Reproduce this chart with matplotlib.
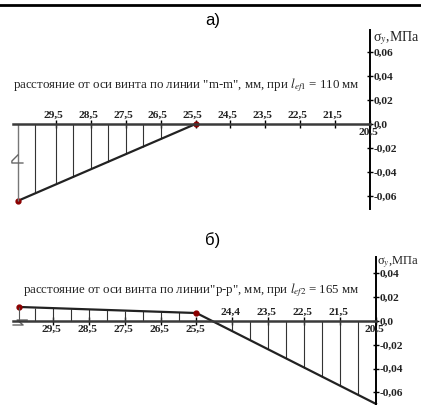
import numpy as np
import matplotlib
matplotlib.use("Agg")
import matplotlib.pyplot as plt
from matplotlib.lines import Line2D

###########################################
# DATA
###########################################
# panel a) - line "m-m", l_ef1 = 110 mm
a_x = [30.59, 25.5]            # distance from screw axis, mm
a_sigma = [-0.064, 0.0]        # sigma_y, MPa
a_hatch = [30.1, 29.5, 29.0, 28.5, 28.0, 27.5, 27.0, 26.5]
a_ticks = [29.5, 28.5, 27.5, 26.5, 25.5, 24.5, 23.5, 22.5, 21.5, 20.5]
a_tick_labels = ["29,5", "28,5", "27,5", "26,5", "25,5", "24,5", "23,5", "22,5", "21,5", "20,5"]
a_yticks = [0.06, 0.04, 0.02, 0.0, -0.02, -0.04, -0.06]

# panel b) - line "p-p", l_ef2 = 165 mm
b_x = [30.44, 25.5, 20.5]
b_sigma = [0.0118, 0.0067, -0.0697]
b_hatch = [30.0, 29.5, 29.0, 28.5, 28.0, 27.5, 27.0, 26.5, 26.0,
           24.5, 24.0, 23.5, 23.0, 22.5, 22.0, 21.5, 21.0]
b_ticks = [29.5, 28.5, 27.5, 26.5, 25.5, 24.5, 23.5, 22.5, 21.5, 20.5]
b_tick_labels = ["29,5", "28,5", "27,5", "26,5", "25,5", "24,4", "23,5", "22,5", "21,5", "20,5"]
b_labels_above = [False, False, False, False, False, True, True, True, True, False]
b_yticks = [0.04, 0.02, 0.0, -0.02, -0.04, -0.06]

a_caption = 'расстояние от оси винта по линии "m-m", мм, при $l_{ef1}$ = 110 мм'
b_caption = 'расстояние от оси винта по линии"р-р", мм, при $l_{ef2}$ = 165 мм'

###########################################
# STYLE
###########################################
W, H = 421, 405
plt.rcParams['mathtext.fontset'] = 'stix'
serif = 'Liberation Serif'
sans = 'Liberation Sans'
dark = '#222222'
dot = '#8b0000'
tick_fs = 8.2


def box(l, r, t, b):
    return [l / W, 1 - b / H, (r - l) / W, (b - t) / H]


def fmt(v):
    if v == 0:
        return "0,0"
    return ("%.2f" % v).replace(".", ",")


def setup(ax, xlim, ylim, yticks):
    ax.set_xlim(*xlim)
    ax.set_ylim(*ylim)
    ax.set_facecolor('none')
    for s in ['left', 'top']:
        ax.spines[s].set_visible(False)
    ax.spines['bottom'].set_position(('data', 0))
    ax.spines['bottom'].set_linewidth(1.8)
    ax.spines['bottom'].set_color('#3a3a3a')
    ax.spines['right'].set_linewidth(1.4)
    ax.spines['right'].set_color('black')
    ax.yaxis.tick_right()
    ax.set_yticks(yticks)
    ax.set_yticklabels([fmt(v) for v in yticks], fontfamily=serif,
                       fontweight='bold', fontsize=tick_fs, color=dark)
    ax.tick_params(axis='y', direction='inout', length=5, width=1, pad=0)
    ax.tick_params(axis='x', direction='inout', length=6, width=1, labelbottom=False)


def break_mark(ax, x0, y0, pts):
    # small zigzag "break" symbol, pts given in pixel offsets
    tr = ax.transData
    px0, py0 = tr.transform((x0, y0))
    inv = tr.inverted()
    xy = np.array([inv.transform((px0 + dx, py0 - dy)) for dx, dy in pts])
    ax.plot(xy[:, 0], xy[:, 1], color='#666666', lw=1, clip_on=False)


fig = plt.figure(figsize=(W / 100, H / 100), dpi=100)

# top rule from the page
fig.add_artist(Line2D([0, 1], [1 - 5 / H, 1 - 5 / H], color='black', lw=2,
                      transform=fig.transFigure))
fig.text(213 / W, 1 - 21 / H, "а)", fontfamily=sans, fontsize=12,
         ha='center', va='center')
fig.text(213 / W, 1 - 240 / H, "б)", fontfamily=sans, fontsize=12,
         ha='center', va='center')

###########################################
# PANEL a
###########################################
ax1 = fig.add_axes(box(13, 370, 30, 209))
setup(ax1, (30.73, 20.5), (-0.0708, 0.0783), a_yticks)
ax1.set_xticks(a_ticks)
ax1.vlines(a_hatch, 0, np.interp(a_hatch, a_x[::-1], a_sigma[::-1]),
           color='#333333', lw=0.8)
ax1.plot(a_x, a_sigma, color=dark, lw=1.6)
ax1.plot(a_x, a_sigma, 'o', color=dot, ms=3.5, clip_on=False)
# break line on the left edge
ax1.vlines([a_x[0]], a_sigma[0], 0, color='#777777', lw=1)
break_mark(ax1, a_x[0], 0, [(0, 31), (-6, 37), (-6, 39), (5, 39)])
for v, lab in zip(a_ticks, a_tick_labels):
    above = v != 20.5
    ax1.annotate(lab, (v, 0), xytext=(-2 if above else -1, 3 if above else -3),
                 textcoords='offset points', ha='center',
                 va='bottom' if above else 'top', fontfamily=serif,
                 fontweight='bold', fontsize=tick_fs, color=dark)
ax1.annotate(a_caption, (0, 1), xycoords='axes fraction', xytext=(0, -40),
             textcoords='offset points', ha='left', va='center',
             fontfamily=serif, fontsize=9.3, color=dark)
ax1.annotate("σ$_{y}$,МПа", (1, 1), xycoords='axes fraction', xytext=(2, -6),
             textcoords='offset points', ha='left', va='center',
             fontfamily=serif, fontsize=10, color=dark)

###########################################
# PANEL b
###########################################
ax2 = fig.add_axes(box(13, 376, 257, 405))
setup(ax2, (30.61, 20.5), (-0.0706, 0.0538), b_yticks)
ax2.set_xticks(b_ticks)
ax2.vlines(b_hatch, 0, np.interp(b_hatch, b_x[::-1], b_sigma[::-1]),
           color='#333333', lw=0.8)
ax2.plot(b_x, b_sigma, color=dark, lw=1.6, clip_on=False)
ax2.plot(b_x[:2], b_sigma[:2], 'o', color=dot, ms=3.5, clip_on=False)
ax2.vlines([b_x[0]], 0, b_sigma[0], color='#555555', lw=0.8)
break_mark(ax2, b_x[0], 0, [(-6, 4), (4, 4), (-2, -1), (8, -1)])
for v, lab, above in zip(b_ticks, b_tick_labels, b_labels_above):
    ax2.annotate(lab, (v, 0), xytext=(-1, 3 if above else -3),
                 textcoords='offset points', ha='center',
                 va='bottom' if above else 'top', fontfamily=serif,
                 fontweight='bold', fontsize=tick_fs, color=dark)
ax2.annotate(b_caption, (0, 1), xycoords='axes fraction', xytext=(7, -24),
             textcoords='offset points', ha='left', va='center',
             fontfamily=serif, fontsize=9.3, color=dark)
ax2.annotate("σ$_{y}$,МПа", (1, 1), xycoords='axes fraction', xytext=(0.5, -4),
             textcoords='offset points', ha='left', va='center',
             fontfamily=serif, fontsize=9, color=dark)

fig.savefig("out.png", dpi=100)
